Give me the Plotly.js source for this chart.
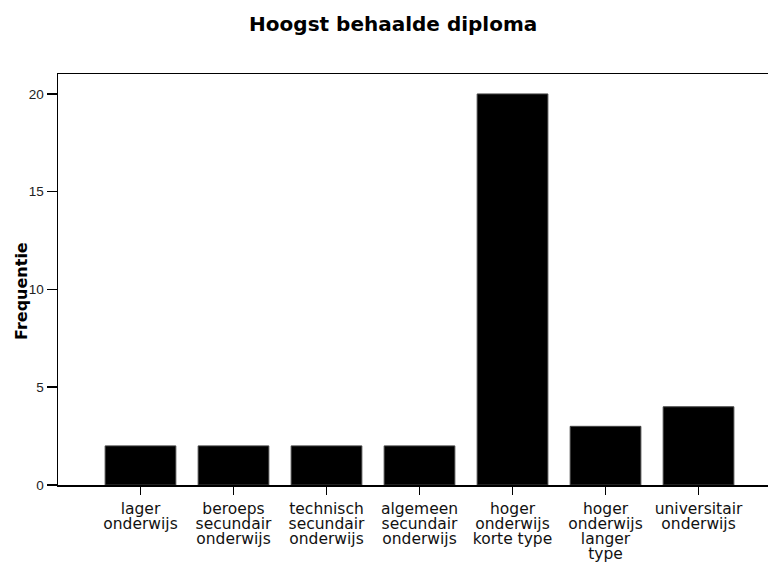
<!DOCTYPE html>
<html>
<head>
<meta charset="utf-8">
<script src="https://cdn.plot.ly/plotly-3.0.1.min.js"></script>
<style>html,body{margin:0;padding:0;background:#fff;}#chart{width:768px;height:562px;}</style>
</head>
<body>
<div id="chart"></div>
<script>
const categories = [
  "lager onderwijs",
  "beroeps secundair onderwijs",
  "technisch secundair onderwijs",
  "algemeen secundair onderwijs",
  "hoger onderwijs korte type",
  "hoger onderwijs langer type",
  "universitair onderwijs"
];
const frequencies = [2, 2, 2, 2, 20, 3, 4];
const tickLabelLines = [
  ["lager", "onderwijs"],
  ["beroeps", "secundair", "onderwijs"],
  ["technisch", "secundair", "onderwijs"],
  ["algemeen", "secundair", "onderwijs"],
  ["hoger", "onderwijs", "korte type"],
  ["hoger", "onderwijs", "langer", "type"],
  ["universitair", "onderwijs"]
];
const yTickValues = [0, 5, 10, 15, 20];

const labelFont = {family: "DejaVu Sans, Verdana, sans-serif", size: 15.5, color: "#111"};
const xRange = [-0.887, 6.747];
const lineStep = 15;
const nLines = Math.max(...tickLabelLines.map(l => l.length));
const positions = categories.map((_, i) => i);

const traces = [{
  type: "bar",
  x: positions,
  y: frequencies,
  width: 0.76,
  marker: {color: "#000", line: {color: "#444", width: 1}},
  hoverinfo: "skip",
  xaxis: "x",
  yaxis: "y"
}];

const layout = {
  width: 768, height: 562,
  margin: {l: 58, r: 0, t: 74, b: 77},
  paper_bgcolor: "#fff",
  plot_bgcolor: "#fff",
  showlegend: false,
  title: {
    text: "<b>Hoogst behaalde diploma</b>",
    font: {family: "DejaVu Sans, Verdana, sans-serif", size: 20, color: "#000"},
    xref: "container", x: 0.512, xanchor: "center",
    yref: "container", y: 1 - 24 / 562, yanchor: "middle"
  },
  yaxis: {
    range: [0, 21.02],
    tickvals: yTickValues,
    ticktext: yTickValues.map(String),
    ticks: "outside", ticklen: 10, tickwidth: 1.5, tickcolor: "#000",
    showline: true, linecolor: "#000", linewidth: 1.5,
    showgrid: false, zeroline: false,
    tickfont: {family: "Liberation Sans, Arial, sans-serif", size: 13.5, color: "#222"}
  },
  annotations: [{
    text: "<b>Frequentie</b>",
    font: {family: "DejaVu Sans, Verdana, sans-serif", size: 16, color: "#000"},
    textangle: -90,
    xref: "paper", x: (21 - 58) / 710, xanchor: "center",
    yref: "paper", y: (485 - 291) / 411, yanchor: "middle",
    showarrow: false
  }]
};

for (let k = 0; k < nLines; k++) {
  const name = k === 0 ? "xaxis" : "xaxis" + (k + 1);
  const ax = {
    type: "linear",
    range: xRange,
    tickvals: positions,
    ticktext: tickLabelLines.map(l => l[k] || ""),
    ticks: "outside", ticklen: 8, tickwidth: 1.5,
    tickcolor: k === 0 ? "#000" : "rgba(0,0,0,0)",
    tickfont: labelFont,
    ticklabelstandoff: Math.round(1 + k * lineStep),
    showgrid: false, zeroline: false,
    fixedrange: true
  };
  if (k === 0) {
    ax.showline = true; ax.linecolor = "#000"; ax.linewidth = 1.5;
    ax.mirror = true;
  } else {
    ax.overlaying = "x";
    ax.anchor = "y";
    ax.side = "bottom";
    ax.showline = false;
    // invisible carrier trace so that this label axis is drawn
    traces.push({
      type: "scatter", mode: "none",
      x: positions, y: frequencies,
      xaxis: "x" + (k + 1), yaxis: "y",
      hoverinfo: "skip", showlegend: false
    });
  }
  layout[name] = ax;
}

Plotly.newPlot("chart", traces, layout, {displayModeBar: false, staticPlot: true});
</script>
</body>
</html>
